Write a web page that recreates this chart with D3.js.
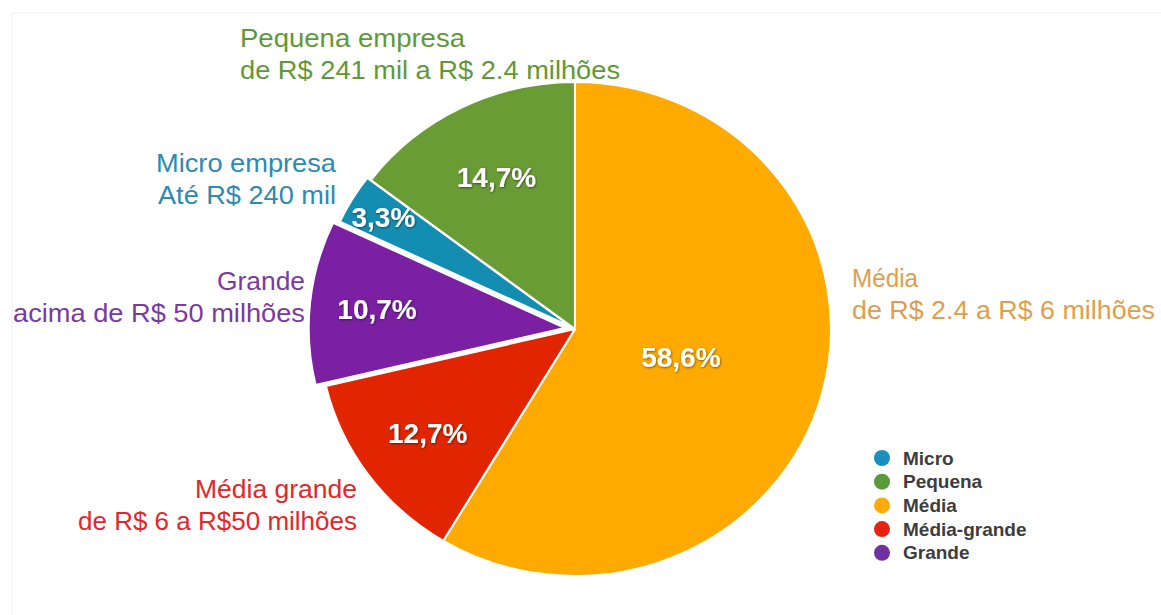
<!DOCTYPE html>
<html>
<head>
<meta charset="utf-8">
<script src="https://cdn.jsdelivr.net/npm/d3@7"></script>
<style>
  html, body { margin: 0; padding: 0; background: #fff; }
  text { font-family: "Liberation Sans", Arial, sans-serif; }
</style>
</head>
<body>
<div id="chart-container"></div>
<script>
'use strict';

// data, clockwise from Micro (Média begins at 12 o'clock)
var categories = ['Micro', 'Pequena', 'Média', 'Média-grande', 'Grande'];
var values = [3.3, 14.7, 58.6, 12.7, 10.7];
var labelLines = [
  ['Micro empresa', 'Até R$ 240 mil'],
  ['Pequena empresa', 'de R$ 241 mil a R$ 2.4 milhões'],
  ['Média', 'de R$ 2.4 a R$ 6 milhões'],
  ['Média grande', 'de R$ 6 a R$50 milhões'],
  ['Grande', 'acima de R$ 50 milhões']
];

var sliceColours = ['#148db3', '#6a9c36', '#ffaa00', '#e12500', '#7b1fa3'];
var textColours = ['#2d8ab2', '#5f9936', '#e09e4c', '#e3262a', '#7a3a9e'];
var legendColours = ['#1a8fc0', '#5b9a3a', '#ffab08', '#e82212', '#7131a2'];

// layout only
var width = 1161, height = 615;
var cx = 575, cy = 329, ry = 247, rx = 256;
var explode = [4, 0, 0, 0, 10];
var pctRadius = [216, 170, 106, 176, 192];
var labelPos = [
  { x: 336, y: 172, anchor: 'end', w: [180, 178] },
  { x: 240, y: 47, anchor: 'start', w: [225, 380] },
  { x: 852, y: 287, anchor: 'start', w: [66, 303] },
  { x: 357, y: 498, anchor: 'end', w: [162, 279] },
  { x: 305, y: 290, anchor: 'end', w: [88, 292] }
];

var svg = d3.select('#chart-container')
  .append('svg')
  .attr('width', width)
  .attr('height', height);

var defs = svg.append('defs');
var shadow = defs.append('filter').attr('id', 'shadow')
  .attr('x', '-20%').attr('y', '-20%').attr('width', '140%').attr('height', '140%');
shadow.append('feDropShadow')
  .attr('dx', 0.6).attr('dy', 0.8).attr('stdDeviation', 0.8)
  .attr('flood-color', '#000').attr('flood-opacity', 0.55);

// faint frame of the original slide
svg.append('rect')
  .attr('x', 12).attr('y', 13)
  .attr('width', width).attr('height', height)
  .attr('fill', 'none')
  .attr('stroke', '#efefef');

var start = -d3.sum(values.slice(0, 2)) / 100 * 2 * Math.PI;
var pie = d3.pie()
  .value(function(d) { return d; })
  .sort(null)
  .startAngle(start)
  .endAngle(start + 2 * Math.PI);
var arcs = pie(values);

var arc = d3.arc().innerRadius(0).outerRadius(ry);

var g = svg.append('g')
  .attr('transform', 'translate(' + cx + ',' + cy + ') scale(' + (rx / ry) + ',1)');

g.selectAll('path')
  .data(arcs)
  .enter()
  .append('path')
  .attr('d', arc)
  .attr('fill', function(d, i) { return sliceColours[i]; })
  .attr('stroke', '#fff')
  .attr('stroke-width', 2)
  .attr('stroke-linejoin', 'round')
  .attr('transform', function(d, i) {
    var a = (d.startAngle + d.endAngle) / 2;
    return 'translate(' + (Math.sin(a) * explode[i]) + ',' + (-Math.cos(a) * explode[i]) + ')';
  });

// percentage labels
var fmt = function(v) { return d3.format('.1f')(v).replace('.', ',') + '%'; };
svg.append('g').selectAll('text')
  .data(arcs)
  .enter()
  .append('text')
  .attr('x', function(d, i) {
    var a = (d.startAngle + d.endAngle) / 2;
    return cx + Math.sin(a) * pctRadius[i] * rx / ry;
  })
  .attr('y', function(d, i) {
    var a = (d.startAngle + d.endAngle) / 2;
    return cy - Math.cos(a) * pctRadius[i];
  })
  .attr('dy', '0.35em')
  .attr('text-anchor', 'middle')
  .attr('fill', '#fff')
  .attr('font-size', 28)
  .attr('font-weight', 'bold')
  .attr('filter', 'url(#shadow)')
  .text(function(d) { return fmt(d.data); });

// category labels
var lab = svg.append('g').selectAll('text')
  .data(categories)
  .enter()
  .append('text')
  .attr('fill', function(d, i) { return textColours[i]; })
  .attr('font-size', 25)
  .attr('text-anchor', function(d, i) { return labelPos[i].anchor; });

lab.each(function(d, i) {
  var t = d3.select(this);
  labelLines[i].forEach(function(line, j) {
    t.append('tspan')
      .attr('x', labelPos[i].x)
      .attr('y', labelPos[i].y + j * 32)
      .attr('textLength', labelPos[i].w[j])
      .attr('lengthAdjust', 'spacingAndGlyphs')
      .text(line);
  });
});

// legend
var legend = svg.append('g')
  .attr('transform', 'translate(882,458)');

var item = legend.selectAll('g')
  .data(categories)
  .enter()
  .append('g')
  .attr('transform', function(d, i) { return 'translate(0,' + (i * 23.7) + ')'; });

item.append('circle')
  .attr('r', 8)
  .attr('fill', function(d, i) { return legendColours[i]; });

item.append('text')
  .attr('x', 21)
  .attr('dy', '0.35em')
  .attr('font-family', 'Lato, "Open Sans", sans-serif')
  .attr('font-weight', 'bold')
  .attr('font-size', 19)
  .attr('fill', '#3d3d3d')
  .text(function(d) { return d; });
</script>
</body>
</html>
